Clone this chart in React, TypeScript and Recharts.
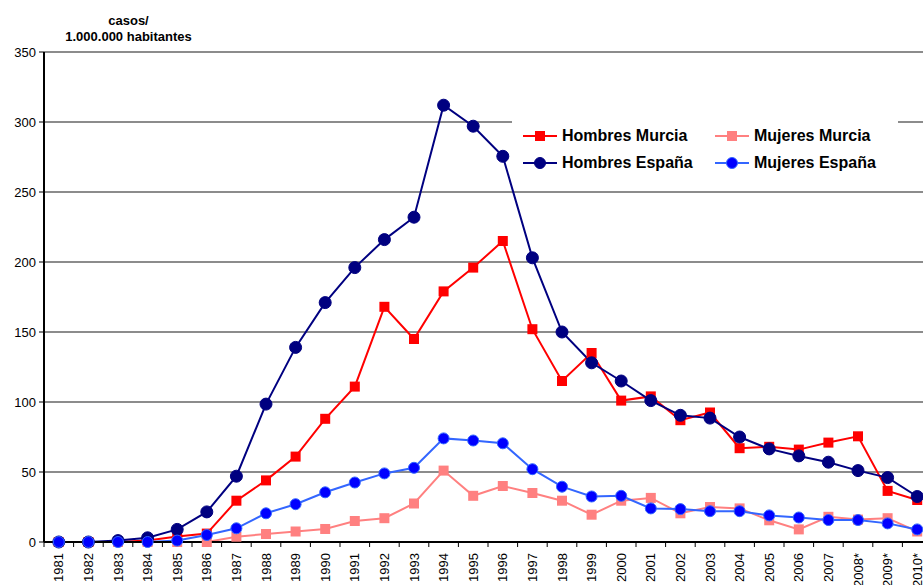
import React from 'react';
import {
  LineChart,
  Line,
  XAxis,
  YAxis,
  CartesianGrid,
  Legend,
} from 'recharts';

const FONT = '"Liberation Sans", Arial, sans-serif';

const years = [
  '1981', '1982', '1983', '1984', '1985', '1986', '1987', '1988', '1989', '1990',
  '1991', '1992', '1993', '1994', '1995', '1996', '1997', '1998', '1999', '2000',
  '2001', '2002', '2003', '2004', '2005', '2006', '2007', '2008*', '2009*', '2010*',
];

const hombresMurcia = [
  0, 0, 0, 1, 4, 6, 29.5, 44, 61, 88,
  111, 168, 145, 179, 196, 215, 152, 115, 135, 101,
  104, 87, 92.5, 67, 68, 66, 71, 75.5, 36.5, 30,
];
const mujeresMurcia = [
  0, 0, 0, 0, 0, 0, 3.8, 5.7, 7.5, 9.3,
  15, 17, 27.5, 51, 33, 40, 35, 29.5, 19.5, 29.5,
  31.5, 20.5, 25, 24, 15.5, 9, 18, 16, 17, 7.5,
];
const hombresEspana = [
  0, 0, 1, 3, 9, 21.5, 47, 98.5, 139, 171,
  196, 216, 232, 312, 297, 275.5, 203, 150, 128, 115,
  101, 90.5, 88.5, 75, 66.5, 61.5, 57, 51, 46, 32.5,
];
const mujeresEspana = [
  0, 0, 0, 0, 1, 5, 9.8, 20.5, 27, 35.5,
  42.5, 49, 53, 74, 72.5, 70.5, 52, 39.5, 32.5, 33,
  24, 23.5, 22, 22, 19, 17.5, 15.7, 15.7, 13.3, 9,
];

const yTicks = [0, 50, 100, 150, 200, 250, 300, 350];

const data = years.map((year, i) => ({
  year,
  hm: hombresMurcia[i],
  mm: mujeresMurcia[i],
  he: hombresEspana[i],
  me: mujeresEspana[i],
}));

const RED = '#FF0000';
const PINK = '#FF8080';
const NAVY = '#000080';
const BLUE_LINE = '#3366FF';
const BLUE_DOT = '#0000FF';

const CHART_W = 940;
const CHART_H = 585;
const Y_AXIS_W = 44;
const MARGIN = { top: 52, right: 8, bottom: 0, left: 0 };
const BAND = (CHART_W - Y_AXIS_W - MARGIN.left - MARGIN.right) / years.length;
const X_TICK_SIZE = 5;
const X_TICK_MARGIN = 6;

const squareDot = (color: string, size: number) => (props: any) => {
  const { cx, cy, index } = props;
  if (cx == null || cy == null) return null;
  return (
    <rect
      key={`sq-${color}-${index}`}
      x={cx - size / 2}
      y={cy - size / 2}
      width={size}
      height={size}
      fill={color}
    />
  );
};

const circleDot = (fill: string, stroke: string, r: number) => (props: any) => {
  const { cx, cy, index } = props;
  if (cx == null || cy == null) return null;
  return (
    <circle
      key={`c-${fill}-${index}`}
      cx={cx}
      cy={cy}
      r={r}
      fill={fill}
      stroke={stroke}
      strokeWidth={1}
    />
  );
};

const XTick = (props: any) => {
  const { x, y, payload, index } = props;
  const axisY = y - X_TICK_SIZE - X_TICK_MARGIN;
  const half = BAND / 2;
  return (
    <g>
      <line x1={x - half} x2={x - half} y1={axisY} y2={axisY + X_TICK_SIZE} stroke="#000" strokeWidth={1} />
      {index === years.length - 1 && (
        <line x1={x + half} x2={x + half} y1={axisY} y2={axisY + X_TICK_SIZE} stroke="#000" strokeWidth={1} />
      )}
      <text
        transform={`translate(${x},${axisY + 11}) rotate(-90)`}
        textAnchor="end"
        dy="0.35em"
        fontSize={13}
        fontFamily={FONT}
        fill="#000"
      >
        {payload.value}
      </text>
    </g>
  );
};

const legendItems = [
  { label: 'Hombres Murcia', color: RED, dot: RED, shape: 'square', col: 0, row: 0 },
  { label: 'Mujeres Murcia', color: PINK, dot: PINK, shape: 'square', col: 1, row: 0 },
  { label: 'Hombres España', color: NAVY, dot: NAVY, shape: 'circle', col: 0, row: 1 },
  { label: 'Mujeres España', color: BLUE_LINE, dot: BLUE_DOT, shape: 'circle', col: 1, row: 1 },
];

const renderLegend = () => (
  <div style={{ position: 'relative', width: 386, height: 70, background: '#fff' }}>
    {legendItems.map((item) => (
      <div
        key={item.label}
        style={{
          position: 'absolute',
          left: 11 + item.col * 192,
          top: 14 + item.row * 27,
          display: 'flex',
          alignItems: 'center',
          height: 20,
        }}
      >
        <svg width={34} height={14} style={{ marginRight: 5 }}>
          <line x1={0} x2={34} y1={7} y2={7} stroke={item.color} strokeWidth={2} />
          {item.shape === 'square' ? (
            <rect x={12} y={2} width={10} height={10} fill={item.dot} />
          ) : (
            <circle cx={17} cy={7} r={5.5} fill={item.dot} stroke={item.color} strokeWidth={1} />
          )}
        </svg>
        <span style={{ fontFamily: FONT, fontWeight: 'bold', fontSize: 16, color: '#000', whiteSpace: 'nowrap' }}>
          {item.label}
        </span>
      </div>
    ))}
  </div>
);

export default function App() {
  return (
    <div
      style={{
        position: 'absolute',
        left: 0,
        top: 0,
        width: 923,
        height: 585,
        overflow: 'hidden',
        background: '#fff',
        fontFamily: FONT,
      }}
    >
      <div
        style={{
          position: 'absolute',
          left: 0,
          top: 13,
          width: 257,
          textAlign: 'center',
          fontWeight: 'bold',
          fontSize: 13,
          lineHeight: '16px',
          color: '#000',
          zIndex: 2,
        }}
      >
        casos/
        <br />
        1.000.000 habitantes
      </div>
      <LineChart width={CHART_W} height={CHART_H} data={data} margin={MARGIN}>
        <CartesianGrid horizontal vertical={false} stroke="#000" strokeOpacity={0.9} />
        <XAxis
          dataKey="year"
          height={CHART_H - 542}
          interval={0}
          padding={{ left: BAND / 2, right: BAND / 2 }}
          tickLine={false}
          tickSize={X_TICK_SIZE}
          tickMargin={X_TICK_MARGIN}
          axisLine={{ stroke: '#000', strokeWidth: 2 }}
          tick={<XTick />}
        />
        <YAxis
          width={Y_AXIS_W}
          domain={[0, 350]}
          ticks={yTicks}
          interval={0}
          tickSize={5}
          tickMargin={3}
          axisLine={{ stroke: '#000', strokeWidth: 2 }}
          tickLine={{ stroke: '#000' }}
          tick={{ fontSize: 13, fill: '#000', fontFamily: FONT }}
        />
        <Legend
          layout="horizontal"
          verticalAlign="middle"
          content={renderLegend}
          wrapperStyle={{ left: 512, top: 112, width: 386, height: 70 }}
        />
        <Line
          dataKey="hm"
          name="Hombres Murcia"
          stroke={RED}
          strokeWidth={2}
          dot={squareDot(RED, 10)}
          isAnimationActive={false}
        />
        <Line
          dataKey="mm"
          name="Mujeres Murcia"
          stroke={PINK}
          strokeWidth={2}
          dot={squareDot(PINK, 10)}
          isAnimationActive={false}
        />
        <Line
          dataKey="he"
          name="Hombres España"
          stroke={NAVY}
          strokeWidth={2}
          dot={circleDot(NAVY, NAVY, 6)}
          isAnimationActive={false}
        />
        <Line
          dataKey="me"
          name="Mujeres España"
          stroke={BLUE_LINE}
          strokeWidth={2}
          dot={circleDot(BLUE_DOT, BLUE_LINE, 5.5)}
          isAnimationActive={false}
        />
      </LineChart>
    </div>
  );
}
